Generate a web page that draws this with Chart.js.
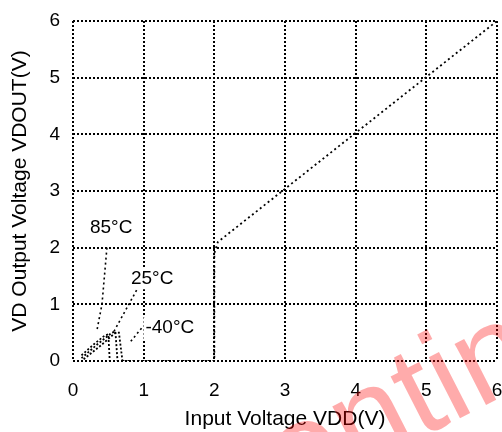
<!DOCTYPE html>
<html>
<head>
<meta charset="utf-8">
<script src="https://cdn.jsdelivr.net/npm/chart.js@4/dist/chart.umd.min.js"></script>
<style>
  html, body { margin: 0; padding: 0; background: #fff; }
  #wrap { width: 502px; height: 432px; }
</style>
</head>
<body>
<div id="wrap"><canvas id="c" width="502" height="432"></canvas></div>
<script>
// Axis ticks
const xTicks = [0, 1, 2, 3, 4, 5, 6];
const yTicks = [0, 1, 2, 3, 4, 5, 6];

// Low-voltage region, one curve per temperature
const vin85  = [0.12, 0.30, 0.45, 0.50, 0.52];
const vout85 = [0.10, 0.30, 0.45, 0.47, 0.00];
const vin25  = [0.12, 0.35, 0.55, 0.60, 0.63];
const vout25 = [0.05, 0.30, 0.50, 0.52, 0.00];
const vinM40  = [0.15, 0.40, 0.60, 0.65, 0.70];
const voutM40 = [0.03, 0.28, 0.50, 0.50, 0.00];

// Release and tracking region
const vinHigh  = [0.70, 2.00, 2.00, 2.05, 6.00];
const voutHigh = [0.00, 0.00, 1.90, 2.10, 6.00];

// Temperature callouts: label text, anchor, leader line
const tempLabels = ['85°C', '25°C', '-40°C'];
const labelX = [0.54, 1.12, 1.37];
const labelY = [2.36, 1.46, 0.58];
const lead85X = [0.48, 0.41, 0.34], lead85Y = [2.00, 1.00, 0.55];
const lead25X = [0.90, 0.57],       lead25Y = [1.25, 0.50];
const leadM40X = [0.97, 0.80],      leadM40Y = [0.58, 0.32];

const pts = (xs, ys) => xs.map((x, i) => ({ x: x, y: ys[i] }));

function lineSet(xs, ys, dash, width) {
  return {
    data: pts(xs, ys),
    showLine: true,
    borderColor: '#000',
    borderWidth: width,
    borderDash: dash,
    pointRadius: 0,
    fill: false,
    tension: 0
  };
}

const FONT = '"Liberation Sans", Arial, sans-serif';

// Callout labels with white backing, then the watermark on top
const overlay = {
  id: 'overlay',
  afterDatasetsDraw(chart) {
    const ctx = chart.ctx;
    const xs = chart.scales.x, ys = chart.scales.y;
    ctx.save();
    ctx.font = '19px ' + FONT;
    ctx.textAlign = 'center';
    ctx.textBaseline = 'middle';
    tempLabels.forEach((t, i) => {
      const px = xs.getPixelForValue(labelX[i]);
      const py = ys.getPixelForValue(labelY[i]);
      const w = ctx.measureText(t).width;
      ctx.fillStyle = '#fff';
      ctx.fillRect(px - w / 2 - 2, py - 11, w + 4, 22);
      ctx.fillStyle = '#000';
      ctx.fillText(t, px, py);
    });
    ctx.restore();
  },
  afterDraw(chart) {
    const ctx = chart.ctx;
    ctx.save();
    ctx.translate(66, 619);
    ctx.rotate(-27 * Math.PI / 180);
    ctx.font = '130px ' + FONT;
    ctx.textAlign = 'left';
    ctx.textBaseline = 'alphabetic';
    ctx.fillStyle = 'rgba(255, 0, 0, 0.33)';
    ctx.fillText('Discontinued', 0, 0);
    ctx.restore();
  }
};

const gridStyle = { color: '#000', lineWidth: 2, drawTicks: false };
const gridBorder = { display: false, dash: [2, 2] };

new Chart(document.getElementById('c'), {
  type: 'scatter',
  data: {
    datasets: [
      lineSet(vin85, vout85, [2, 2], 1.8),
      lineSet(vin25, vout25, [2, 2], 1.8),
      lineSet(vinM40, voutM40, [2, 2], 1.8),
      lineSet(vinHigh, voutHigh, [2, 3], 1.8),
      lineSet(lead85X, lead85Y, [2, 3], 1.6),
      lineSet(lead25X, lead25Y, [2, 3], 1.6),
      lineSet(leadM40X, leadM40Y, [2, 3], 1.6)
    ]
  },
  options: {
    responsive: false,
    animation: false,
    layout: { padding: { top: 21, right: 5, left: 0, bottom: 0 } },
    plugins: { legend: { display: false }, tooltip: { enabled: false } },
    scales: {
      x: {
        type: 'linear',
        min: 0, max: 6,
        afterBuildTicks: s => { s.ticks = xTicks.map(v => ({ value: v })); },
        afterFit: s => { s.height = 71; s.paddingLeft = 0; s.paddingRight = 0; },
        grid: gridStyle,
        border: gridBorder,
        ticks: { color: '#000', font: { family: FONT, size: 19 }, padding: 18 },
        title: {
          display: true,
          text: 'Input Voltage VDD(V)',
          color: '#000',
          font: { family: FONT, size: 21 },
          padding: { top: 0, bottom: 0 }
        }
      },
      y: {
        type: 'linear',
        min: 0, max: 6,
        afterBuildTicks: s => { s.ticks = yTicks.map(v => ({ value: v })); },
        afterFit: s => { s.width = 73; s.paddingTop = 0; s.paddingBottom = 0; },
        grid: gridStyle,
        border: gridBorder,
        ticks: { color: '#000', font: { family: FONT, size: 19 }, padding: 13 },
        title: {
          display: true,
          text: 'VD Output Voltage VDOUT(V)',
          color: '#000',
          font: { family: FONT, size: 21 },
          padding: { top: 8, bottom: 0 }
        }
      }
    }
  },
  plugins: [overlay]
});
</script>
</body>
</html>
